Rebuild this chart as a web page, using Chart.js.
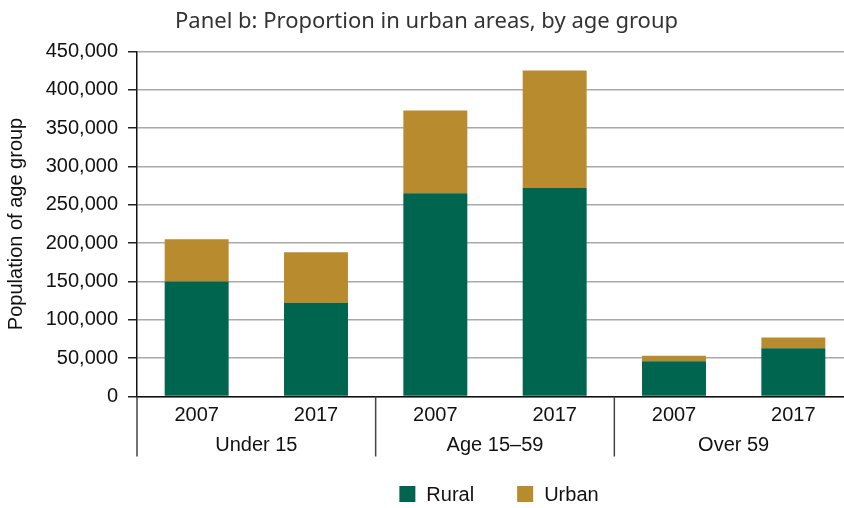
<!DOCTYPE html>
<html>
<head>
<meta charset="utf-8">
<script src="https://cdn.jsdelivr.net/npm/chart.js@4.4.1/dist/chart.umd.min.js"></script>
<style>
    html, body { margin: 0; padding: 0; background: #fff; overflow: hidden; }
    #wrap { position: relative; width: 853px; height: 508px; }
</style>
</head>
<body>
<div id="wrap"><canvas id="popChart"></canvas></div>
<script>
// Data
const years = ['2007', '2017', '2007', '2017', '2007', '2017'];
const groups = ['Under 15', 'Age 15–59', 'Over 59'];
const rural = [150000, 122000, 265000, 272000, 46000, 63000];
const urban = [55000, 66000, 108000, 153000, 7000, 14000];
const yMax = 450000;
const yStep = 50000;

const GREEN = '#00654f';
const GOLD = '#b88b2e';
const FONT = "'Liberation Sans', Arial, sans-serif";

// Group labels under the years, plus the vertical dividers and the legend
const groupAxis = {
    id: 'groupAxis',
    afterDraw(chart) {
        const ctx = chart.ctx;
        const x = chart.scales.x;
        const area = chart.chartArea;
        ctx.save();
        ctx.strokeStyle = '#444';
        ctx.lineWidth = 1.5;
        ctx.fillStyle = '#111';
        ctx.font = '20px ' + FONT;
        ctx.textAlign = 'center';
        ctx.textBaseline = 'middle';
        groups.forEach((g, i) => {
            const a = x.getPixelForValue(2 * i);
            const b = x.getPixelForValue(2 * i + 1);
            const left = a - (b - a) / 2;
            ctx.beginPath();
            ctx.moveTo(left, area.bottom);
            ctx.lineTo(left, area.bottom + 60);
            ctx.stroke();
            ctx.fillText(g, (a + b) / 2, area.bottom + 49);
        });

        // legend
        const items = chart.data.datasets.map(ds => ({ label: ds.label, color: ds.backgroundColor }));
        const box = 16, gapText = 11, gapItem = 43;
        let total = 0;
        items.forEach((it, i) => {
            it.w = ctx.measureText(it.label).width;
            total += box + gapText + it.w + (i < items.length - 1 ? gapItem : 0);
        });
        let cx = (area.left + area.right) / 2 + 4 - total / 2;
        const cy = 494;
        ctx.textAlign = 'left';
        items.forEach(it => {
            ctx.fillStyle = it.color;
            ctx.fillRect(cx, cy - box / 2, box, box);
            ctx.fillStyle = '#111';
            ctx.fillText(it.label, cx + box + gapText, cy + 1);
            cx += box + gapText + it.w + gapItem;
        });
        ctx.restore();
    }
};

new Chart(document.getElementById('popChart').getContext('2d'), {
    type: 'bar',
    data: {
        labels: years,
        datasets: [
            { label: 'Rural', data: rural, backgroundColor: GREEN },
            { label: 'Urban', data: urban, backgroundColor: GOLD }
        ]
    },
    options: {
        responsive: true,
        maintainAspectRatio: false,
        animation: false,
        layout: { padding: { left: 0, right: 0, top: 0, bottom: 0 } },
        datasets: {
            bar: { barPercentage: 1, categoryPercentage: 0.536, borderWidth: 0 }
        },
        scales: {
            x: {
                stacked: true,
                grid: { display: false },
                border: { display: true, color: '#111', width: 1.5 },
                ticks: { color: '#111', font: { family: FONT, size: 20 }, padding: -1, maxRotation: 0 },
                afterFit(scale) { scale.height = 111.5; }
            },
            y: {
                stacked: true,
                min: 0,
                max: yMax,
                grid: { color: '#a9a9a9', lineWidth: 1.5, tickLength: 9, tickColor: '#222', tickWidth: 1.5 },
                border: { display: true, color: '#111', width: 1.5 },
                ticks: {
                    stepSize: yStep,
                    color: '#111',
                    padding: 10,
                    font: { family: FONT, size: 20 },
                    callback: v => v.toLocaleString('en-US')
                },
                title: {
                    display: true,
                    text: 'Population of age group',
                    color: '#111',
                    font: { family: FONT, size: 20 },
                    padding: { top: 4, bottom: 0 }
                },
                afterFit(scale) { scale.width = 137; }
            }
        },
        plugins: {
            legend: { display: false },
            tooltip: { enabled: false },
            title: {
                display: true,
                text: 'Panel b: Proportion in urban areas, by age group',
                color: '#333',
                font: { family: "'Noto Sans', sans-serif", size: 22, weight: 'normal' },
                padding: { top: 9, bottom: 16 }
            }
        }
    },
    plugins: [groupAxis]
});
</script>
</body>
</html>
